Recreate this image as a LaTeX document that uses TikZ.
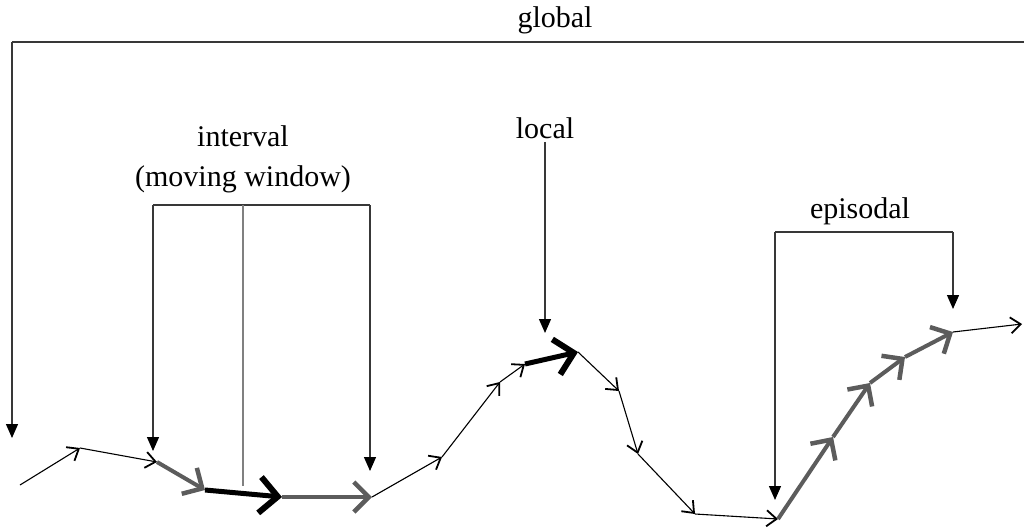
\documentclass[tikz,border=0pt]{standalone}
\usepackage{fontspec}
\setmainfont{Liberation Serif}
\usetikzlibrary{arrows.meta}
\definecolor{bracketgray}{HTML}{383838}
\definecolor{trackgray}{HTML}{5C5C5C}
\tikzset{
  track/.style={line width=1.1pt,-{Straight Barb[length=10pt,width=16pt,line width=1.8pt]}},
  trackbold/.style={line width=5pt,-{Straight Barb[length=18pt,width=36pt,line width=6pt]}},
  trackgrey/.style={trackgray,line width=4pt,-{Straight Barb[length=15pt,width=30pt,line width=4.5pt]}},
  bracket/.style={bracketgray,line width=1.3pt},
  pointer/.style={bracket,-{Triangle[length=14pt,width=12pt,color=black]}},
  scaletext/.style={font=\fontsize{30}{40}\selectfont,inner sep=3pt,align=center}
}
\begin{document}
\begin{tikzpicture}[x=1pt,y=-1pt]
\useasboundingbox (0,0) rectangle (1024,527);

% trajectory
\coordinate (p0) at (20,485);
\coordinate (p1) at (80,448);
\coordinate (p2) at (157,462);
\coordinate (p3) at (205,490);
\coordinate (p4) at (282,497);
\coordinate (p5) at (372,497);
\coordinate (p6) at (442,457);
\coordinate (p7) at (500,382);
\coordinate (p8) at (525,364);
\coordinate (p9) at (578,352);
\coordinate (p10) at (619,391);
\coordinate (p11) at (638,454);
\coordinate (p12) at (695,514);
\coordinate (p13) at (778,519);
\coordinate (p14) at (833,437);
\coordinate (p15) at (870,383);
\coordinate (p16) at (905,357);
\coordinate (p17) at (953,332);
\coordinate (p18) at (1022,324);

\foreach \a/\b in {p0/p1,p1/p2,p5/p6,p6/p7,p7/p8,p9/p10,p10/p11,p11/p12,p12/p13,p17/p18}
  \draw[track] (\a) -- (\b);
\draw[trackgrey] (p2) -- (p3);
\draw[trackbold] (p3) -- (p4);
\draw[trackgrey] (p4) -- (p5);
\draw[trackbold] (p8) -- (p9);
\foreach \a/\b in {p13/p14,p14/p15,p15/p16,p16/p17}
  \draw[trackgrey] (\a) -- (\b);

% global
\node[scaletext] (globaltxt) at (555,20) {global};
\coordinate (gl) at (12,42);
\coordinate (gr) at (1024,42);
\coordinate (gtip) at (12,438);
\draw[bracket] (gr) -- (gl);
\draw[pointer] (gl) -- (gtip);

% interval
\node[scaletext] (intervaltxt) at (243,159) {interval\\(moving window)};
\coordinate (il) at (153,205);
\coordinate (im) at (243,205);
\coordinate (ir) at (370,205);
\coordinate (iltip) at (153,451);
\coordinate (imend) at (243,486);
\coordinate (irtip) at (370,471);
\draw[bracket] (il) -- (ir);
\draw[pointer] (il) -- (iltip);
\draw[bracket,gray] (im) -- (imend);
\draw[pointer] (ir) -- (irtip);

% local
\node[scaletext] (localtxt) at (545,128) {local};
\coordinate (localtip) at (545,333);
\draw[pointer] (localtxt) -- (localtip);

% episodal
\node[scaletext] (episodaltxt) at (860,211) {episodal};
\coordinate (el) at (775,232);
\coordinate (er) at (953,232);
\coordinate (eltip) at (775,500);
\coordinate (ertip) at (953,309);
\draw[bracket] (el) -- (er);
\draw[pointer] (el) -- (eltip);
\draw[pointer] (er) -- (ertip);
\end{tikzpicture}
\end{document}
